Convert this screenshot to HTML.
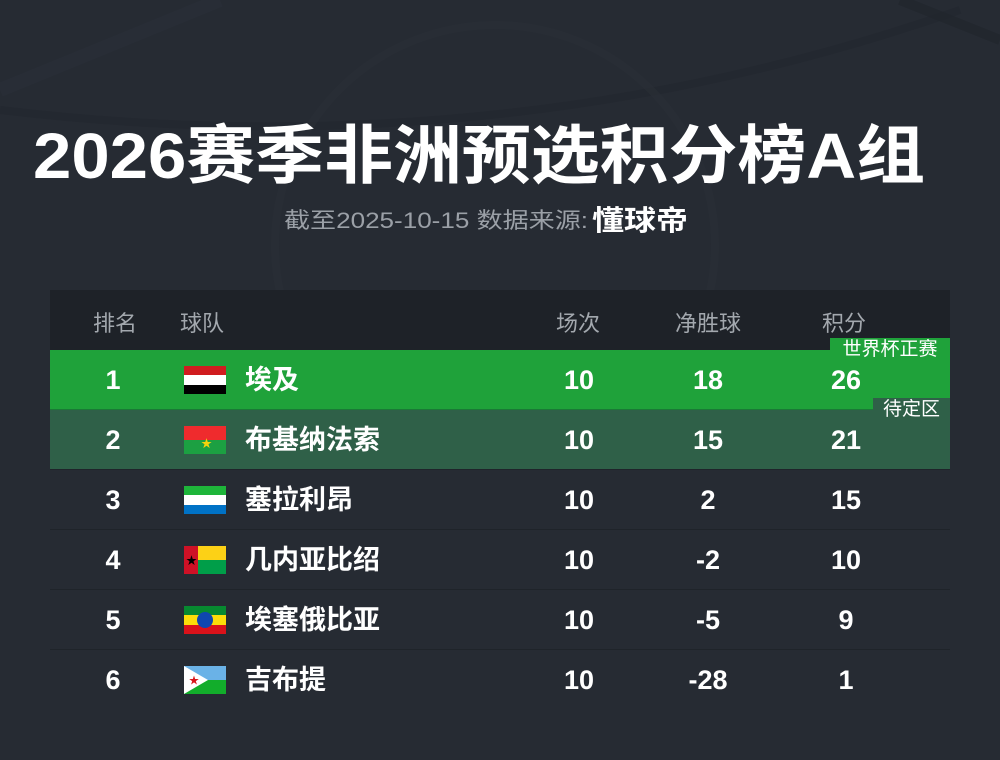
<!DOCTYPE html>
<html><head><meta charset="utf-8"><style>
*{margin:0;padding:0;box-sizing:border-box}
body{width:1000px;height:760px;background:#262b33;position:relative;overflow:hidden;font-family:"Liberation Sans","Noto Sans CJK SC",sans-serif;color:#fff}
.a{position:absolute}
.hd{position:absolute;top:290px;left:50px;width:900px;height:60px;background:#1e2228}
.hd span{position:absolute;top:16px;font-size:22px;color:#a3a8ae;white-space:nowrap}
.row{position:absolute;left:50px;width:900px;height:60px;border-bottom:1px solid #1f242a}
.row span{position:absolute;top:14px;font-size:27px;font-weight:bold;line-height:32px;white-space:nowrap}
.c{transform:translateX(-50%)}
.flag{position:absolute;left:134px;top:16px;width:42px;height:28px;overflow:hidden}
.badge{position:absolute;font-size:19px;color:#fff;line-height:23px;text-align:center}
</style></head><body>
<svg class="a" style="left:0;top:0" width="1000" height="760">
<path d="M0 90 L220 0" stroke="#2d333b" stroke-width="14" fill="none" opacity=".4"/>
<path d="M0 110 Q500 170 960 10" stroke="#20252c" stroke-width="8" fill="none" opacity=".4"/>
<path d="M900 0 L1000 40" stroke="#20252c" stroke-width="10" opacity=".6"/>
<circle cx="495" cy="245" r="220" stroke="#2c3139" stroke-width="8" fill="none" opacity=".4"/>
<text x="33" y="178" textLength="892" lengthAdjust="spacingAndGlyphs" font-size="64" font-weight="bold" fill="#fff" font-family="Liberation Sans, Noto Sans CJK SC, sans-serif">2026赛季非洲预选积分榜A组</text>
<text x="284" y="228" textLength="304" lengthAdjust="spacingAndGlyphs" font-size="22" fill="#9ba0a7" font-family="Liberation Sans, Noto Sans CJK SC, sans-serif">截至2025-10-15 数据来源:</text>
<text x="592" y="230" textLength="96" lengthAdjust="spacingAndGlyphs" font-size="28" font-weight="bold" fill="#fff" font-family="Liberation Sans, Noto Sans CJK SC, sans-serif">懂球帝</text>
</svg>
<div class="hd">
<span style="left:43px">排名</span><span style="left:130px">球队</span>
<span style="left:506px">场次</span><span style="left:625px">净胜球</span><span style="left:772px">积分</span>
</div>

<div class="row" style="top:350px;background:#1fa23a;border-bottom:1px solid #1a7a36">
<span class="c" style="left:63px">1</span>
<div class="flag"><div style="height:33%;background:#d01c1f"></div><div style="height:34%;background:#fff"></div><div style="height:33%;background:#000"></div></div>
<span style="left:195px">埃及</span>
<span class="c" style="left:529px">10</span><span class="c" style="left:658px">18</span><span class="c" style="left:796px">26</span>
</div>
<div class="badge" style="left:830px;top:338px;width:120px;background:#1fa23a">世界杯正赛</div>

<div class="row" style="top:410px;background:#2f6048">
<span class="c" style="left:63px">2</span>
<div class="flag"><div style="height:50%;background:#ef2b2d"></div><div style="height:50%;background:#1ca042"></div><div class="a" style="left:17px;top:9px;color:#f4d30c;font-size:11px">★</div></div>
<span style="left:195px">布基纳法索</span>
<span class="c" style="left:529px">10</span><span class="c" style="left:658px">15</span><span class="c" style="left:796px">21</span>
</div>
<div class="badge" style="left:873px;top:398px;width:77px;background:#2f6048">待定区</div>

<div class="row" style="top:470px">
<span class="c" style="left:63px">3</span>
<div class="flag"><div style="height:33%;background:#1eb53a"></div><div style="height:34%;background:#fff"></div><div style="height:33%;background:#0072c6"></div></div>
<span style="left:195px">塞拉利昂</span>
<span class="c" style="left:529px">10</span><span class="c" style="left:658px">2</span><span class="c" style="left:796px">15</span>
</div>

<div class="row" style="top:530px">
<span class="c" style="left:63px">4</span>
<div class="flag"><div class="a" style="left:0;top:0;width:14px;height:28px;background:#ce1126"></div><div class="a" style="left:14px;top:0;width:28px;height:14px;background:#fcd116"></div><div class="a" style="left:14px;top:14px;width:28px;height:14px;background:#009e49"></div><div class="a" style="left:2px;top:6px;color:#000;font-size:11px">★</div></div>
<span style="left:195px">几内亚比绍</span>
<span class="c" style="left:529px">10</span><span class="c" style="left:658px">-2</span><span class="c" style="left:796px">10</span>
</div>

<div class="row" style="top:590px">
<span class="c" style="left:63px">5</span>
<div class="flag"><div style="height:33%;background:#078930"></div><div style="height:34%;background:#fcdd09"></div><div style="height:33%;background:#da121a"></div><div class="a" style="left:13px;top:6px;width:16px;height:16px;border-radius:50%;background:#0f47af"></div></div>
<span style="left:195px">埃塞俄比亚</span>
<span class="c" style="left:529px">10</span><span class="c" style="left:658px">-5</span><span class="c" style="left:796px">9</span>
</div>

<div class="row" style="top:650px;border-bottom:none">
<span class="c" style="left:63px">6</span>
<div class="flag"><div style="height:50%;background:#6ab2e7"></div><div style="height:50%;background:#12ad2b"></div><svg class="a" style="left:0;top:0" width="42" height="28"><polygon points="0,0 24,14 0,28" fill="#fff"/><text x="5" y="18" font-size="10" fill="#d7141a">★</text></svg></div>
<span style="left:195px">吉布提</span>
<span class="c" style="left:529px">10</span><span class="c" style="left:658px">-28</span><span class="c" style="left:796px">1</span>
</div>
</body></html>
